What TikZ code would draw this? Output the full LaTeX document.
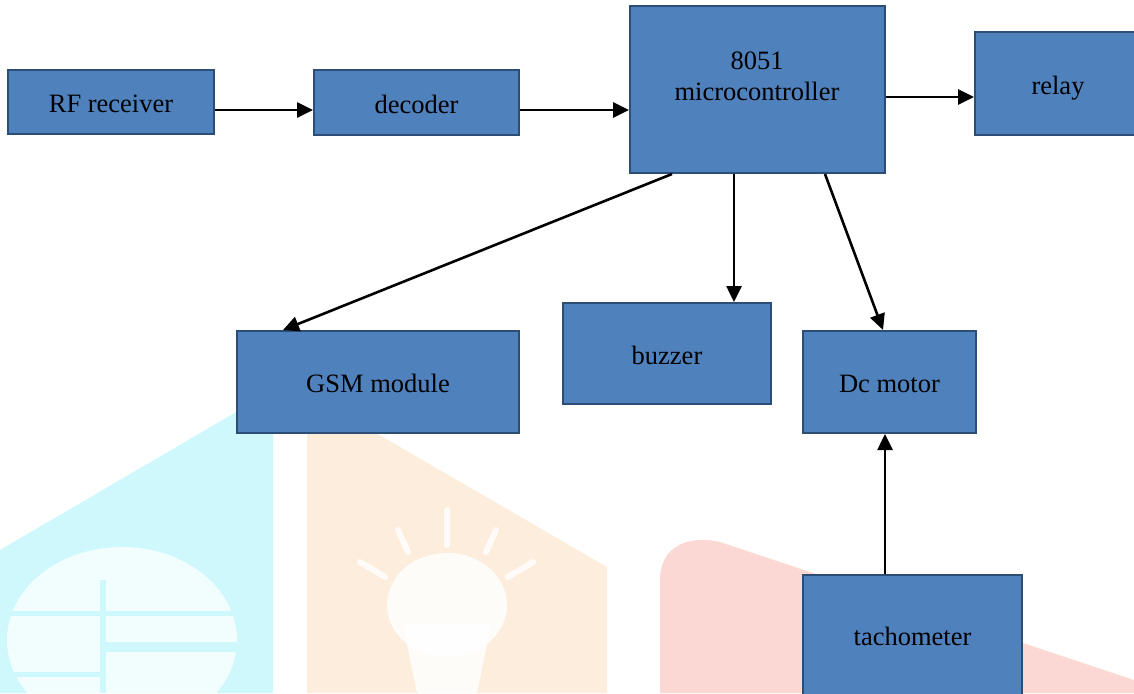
\documentclass[tikz,border=0pt]{standalone}
\usepackage{fontspec}
\setmainfont{Liberation Serif}
\usetikzlibrary{arrows.meta}
\definecolor{boxfill}{RGB}{79,129,189}
\definecolor{boxline}{RGB}{44,77,117}
\definecolor{wmcyan}{RGB}{206,248,252}
\definecolor{wmorange}{RGB}{253,237,220}
\definecolor{wmred}{RGB}{251,216,211}
\tikzset{
  blockbox/.style={draw=boxline, fill=boxfill, line width=2pt, inner sep=0pt,
    font=\fontsize{26.5}{31}\selectfont, text=black, text height=21.5pt, text depth=0pt},
  txt/.style={inner sep=0pt, align=center, font=\fontsize{26.5}{31}\selectfont, text=black},
  arr/.style={draw=black, line width=2.6pt, -{Triangle[length=16pt,width=15pt]}},
  wmray/.style={draw=white, line width=6pt, opacity=0.8, line cap=round}
}
\begin{document}
\begin{tikzpicture}[x=1pt,y=-1pt]
\useasboundingbox (0,0) rectangle (1134,693);
\clip (0,0) rectangle (1134,693);
% faint background watermark
\fill[wmcyan] (0,550) -- (250,404) -- (273,404) -- (273,693) -- (0,693) -- cycle;
\fill[white, opacity=0.75] (122,640) ellipse [x radius=115, y radius=93];
\fill[wmcyan] (100,580) rectangle (106,693);
\fill[wmcyan] (10,611) rectangle (237,616);
\fill[wmcyan] (106,642) rectangle (245,652);
\fill[wmcyan] (10,672) rectangle (100,677);
\fill[wmorange] (307,433) -- (376,433) -- (607,567) -- (607,693) -- (307,693) -- cycle;
\fill[white, opacity=0.85] (447,605) ellipse [x radius=60, y radius=52];
\fill[white, opacity=0.85] (403,625) -- (491,625) -- (477,693) -- (417,693) -- cycle;
\draw[wmray] (447,510) -- (447,545);
\draw[wmray] (398,530) -- (408,552);
\draw[wmray] (496,530) -- (486,552);
\draw[wmray] (360,562) -- (385,577);
\draw[wmray] (533,562) -- (508,577);
\fill[wmred] (660,693) -- (660,580) .. controls (660,545) and (690,535) .. (720,542) -- (1134,680) -- (1134,693) -- cycle;
% blocks
\node[blockbox, minimum width=206pt, minimum height=64pt] (rf) at (111,102) {RF receiver};
\node[blockbox, minimum width=205pt, minimum height=65pt] (dec) at (416.5,102.5) {decoder};
\node[blockbox, minimum width=255pt, minimum height=167pt] (mcu) at (757.5,89.5) {};
\node[txt] (mcutext) at (757,76) {8051\\microcontroller};
\node[blockbox, minimum width=166pt, minimum height=103pt] (relay) at (1058,83.5) {relay};
\node[blockbox, minimum width=282pt, minimum height=102pt] (gsm) at (378,382) {GSM module};
\node[blockbox, minimum width=208pt, minimum height=101pt] (buz) at (667,353.5) {buzzer};
\node[blockbox, minimum width=173pt, minimum height=102pt] (motor) at (889.5,382) {Dc motor};
\node[blockbox, minimum width=219pt, minimum height=120pt] (tacho) at (912.5,635) {tachometer};
% connectors
\draw[arr] ([yshift=-8pt]rf.east) -- ([yshift=-8pt]rf.east -| dec.west);
\draw[arr] ([yshift=-7.5pt]dec.east) -- ([yshift=-7.5pt]dec.east -| mcu.west);
\draw[arr] ([yshift=-7.5pt]mcu.east) -- ([yshift=-7.5pt]mcu.east -| relay.west);
\draw[arr] ([xshift=-85.5pt]mcu.south) -- ([xshift=-95pt]gsm.north);
\draw[arr] ([xshift=-23.5pt]mcu.south) -- ([xshift=-23.5pt]mcu.south |- buz.north);
\draw[arr] ([xshift=67.5pt]mcu.south) -- ([xshift=-6.5pt]motor.north);
\draw[arr] ([xshift=-27.5pt]tacho.north) -- ([xshift=-27.5pt]tacho.north |- motor.south);
\end{tikzpicture}
\end{document}
